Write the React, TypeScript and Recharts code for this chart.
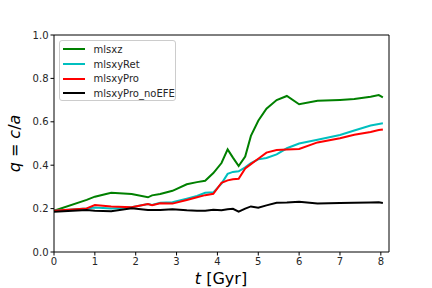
import { LineChart, Line, XAxis, YAxis, ReferenceLine } from "recharts";

const times = [0, 0.8, 1.0, 1.4, 1.9, 2.3, 2.4, 2.6, 2.9, 3.25, 3.5, 3.7, 3.9, 4.1, 4.25, 4.38, 4.52, 4.68, 4.82, 5.0, 5.2, 5.45, 5.7, 6.0, 6.45, 7.0, 7.35, 7.75, 7.95, 8.05];

const mlsxz = [0.19, 0.24, 0.255, 0.273, 0.267, 0.252, 0.261, 0.267, 0.282, 0.312, 0.322, 0.328, 0.364, 0.41, 0.473, 0.435, 0.396, 0.44, 0.535, 0.605, 0.66, 0.7, 0.719, 0.681, 0.697, 0.701, 0.705, 0.715, 0.723, 0.713];
const mlsxyRet = [0.19, 0.201, 0.205, 0.2, 0.206, 0.221, 0.217, 0.227, 0.229, 0.246, 0.258, 0.273, 0.275, 0.315, 0.36, 0.369, 0.372, 0.39, 0.41, 0.427, 0.433, 0.45, 0.478, 0.5, 0.517, 0.539, 0.56, 0.583, 0.59, 0.593];
const mlsxyPro = [0.19, 0.201, 0.216, 0.21, 0.206, 0.221, 0.216, 0.225, 0.223, 0.24, 0.252, 0.262, 0.268, 0.319, 0.33, 0.335, 0.337, 0.385, 0.405, 0.43, 0.458, 0.47, 0.472, 0.475, 0.505, 0.524, 0.54, 0.553, 0.562, 0.565];
const mlsxyProNoEFE = [0.186, 0.194, 0.19, 0.188, 0.202, 0.194, 0.193, 0.194, 0.197, 0.192, 0.19, 0.19, 0.195, 0.192, 0.197, 0.199, 0.186, 0.2, 0.21, 0.204, 0.215, 0.227, 0.228, 0.232, 0.224, 0.226, 0.227, 0.228, 0.229, 0.226];

const xTicks = [0, 1, 2, 3, 4, 5, 6, 7, 8];
const yTicks = [0, 0.2, 0.4, 0.6, 0.8, 1.0];

const series = [
  { key: "mlsxz", name: "mlsxz", color: "#008000" },
  { key: "mlsxyRet", name: "mlsxyRet", color: "#00bfbf" },
  { key: "mlsxyPro", name: "mlsxyPro", color: "#ff0000" },
  { key: "noEFE", name: "mlsxyPro_noEFE", color: "#000000" },
];

const data = times.map((t, i) => ({
  t,
  mlsxz: mlsxz[i],
  mlsxyRet: mlsxyRet[i],
  mlsxyPro: mlsxyPro[i],
  noEFE: mlsxyProNoEFE[i],
}));

const font = "DejaVu Sans, sans-serif";
const tickStyle = { fontSize: 10, fill: "#262626", fontFamily: font };

function LegendBox() {
  return (
    <div
      style={{
        position: "absolute",
        left: 59,
        top: 40,
        width: 117,
        height: 61,
        boxSizing: "border-box",
        border: "1px solid #cccccc",
        borderRadius: 3,
        background: "rgba(255,255,255,0.8)",
        padding: "1px 0 0 1px",
        fontFamily: font,
        fontSize: 10,
        color: "#262626",
      }}
    >
      {series.map((s) => (
        <div key={s.key} style={{ display: "flex", alignItems: "center", height: 14.7 }}>
          <div style={{ width: 22, height: 2, background: s.color, margin: "0 9px 0 1.5px" }} />
          <span>{s.name}</span>
        </div>
      ))}
    </div>
  );
}

export default function App() {
  return (
    <div style={{ position: "absolute", left: 0, top: 0, width: 432, height: 288, background: "#fff" }}>
      <LineChart width={432} height={288} data={data} margin={{ top: 35, right: 43, bottom: 0, left: 0 }}>
        <XAxis
          dataKey="t"
          type="number"
          domain={[0, 8.2]}
          ticks={xTicks}
          height={36}
          tick={tickStyle}
          tickSize={3.5}
          tickMargin={2}
          stroke="#000"
          tickLine={{ stroke: "#000" }}
          label={{
            content: () => (
              <text x={221} y={284} textAnchor="middle" fontFamily={font} fontSize={16} fill="#000">
                <tspan fontStyle="italic">t</tspan>
                <tspan> [Gyr]</tspan>
              </text>
            ),
          }}
        />
        <YAxis
          type="number"
          domain={[0, 1]}
          ticks={yTicks}
          width={54}
          tick={tickStyle}
          tickFormatter={(v) => Number(v).toFixed(1)}
          tickSize={3.5}
          tickMargin={2}
          stroke="#000"
          tickLine={{ stroke: "#000" }}
          label={{
            content: () => (
              <text
                x={0}
                y={0}
                transform="translate(20,143.5) rotate(-90)"
                textAnchor="middle"
                fontFamily={font}
                fontSize={16}
                fill="#000"
              >
                <tspan fontStyle="italic">q</tspan>
                <tspan> = </tspan>
                <tspan fontStyle="italic">c</tspan>
                <tspan>/</tspan>
                <tspan fontStyle="italic">a</tspan>
              </text>
            ),
          }}
        />
        <ReferenceLine y={1} stroke="#000" />
        <ReferenceLine x={8.2} stroke="#000" />
        {series.map((s) => (
          <Line
            key={s.key}
            dataKey={s.key}
            name={s.name}
            stroke={s.color}
            strokeWidth={2}
            dot={false}
            type="linear"
            isAnimationActive={false}
          />
        ))}
      </LineChart>
      <LegendBox />
    </div>
  );
}
